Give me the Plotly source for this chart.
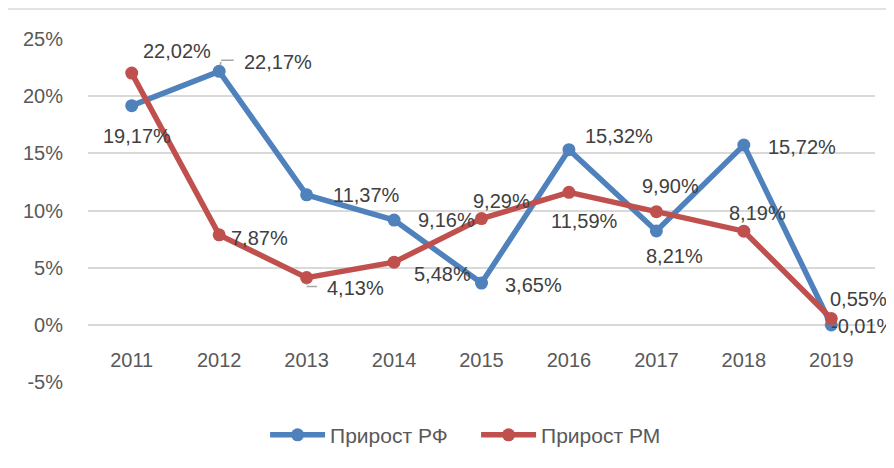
import plotly.graph_objects as go

years = ["2011", "2012", "2013", "2014", "2015", "2016", "2017", "2018", "2019"]
rf_growth = [19.17, 22.17, 11.37, 9.16, 3.65, 15.32, 8.21, 15.72, -0.01]
rm_growth = [22.02, 7.87, 4.13, 5.48, 9.29, 11.59, 9.90, 8.19, 0.55]
series_names = ["Прирост РФ", "Прирост РМ"]
y_ticks = [-5, 0, 5, 10, 15, 20, 25]

# label offsets in pixels (dx right, dy down)
rf_offsets = [(5, 30), (59, -9), (60, 0), (52, 0), (52, 2), (50, -14), (18, 25), (58, 2), (32, 1)]
rm_offsets = [(45, -22), (40, 3), (49, 10), (48, 12), (20, -18), (16, 29), (14, -26), (14, -18), (27, -20)]

BLUE = "#4F81BD"
RED = "#C0504D"
TXT = "#404040"
FONT = "Liberation Sans, Arial, sans-serif"

xpos = list(range(len(years)))

def fmt(v):
    return f"{v:.2f}".replace(".", ",") + "%"

fig = go.Figure()
for name, vals, col in [(series_names[0], rf_growth, BLUE), (series_names[1], rm_growth, RED)]:
    fig.add_trace(go.Scatter(
        x=xpos, y=vals, name=name, mode="lines+markers",
        line=dict(color=col, width=5.5),
        marker=dict(color=col, size=13),
        hoverinfo="skip",
    ))

for vals, offs in [(rf_growth, rf_offsets), (rm_growth, rm_offsets)]:
    for xi, v, (dx, dy) in zip(xpos, vals, offs):
        fig.add_annotation(
            x=xi, y=v, xref="x", yref="y", text=fmt(v), showarrow=False,
            xshift=dx, yshift=-dy,
            font=dict(family=FONT, size=20, color=TXT),
            xanchor="center", yanchor="middle",
        )

# leader lines (L-shaped) as arrow-only annotations
LEAD = dict(text="", showarrow=True, arrowhead=0, arrowwidth=1.5, arrowcolor="#A6A6A6",
            standoff=0, axref="pixel", ayref="pixel", xref="x", yref="y")
fig.add_annotation(x=xpos[1], y=rf_growth[1], xshift=1, yshift=6, ax=1, ay=-5, **LEAD)
fig.add_annotation(x=xpos[1], y=rf_growth[1], xshift=2, yshift=11, ax=14, ay=0, **LEAD)
fig.add_annotation(x=xpos[2], y=rm_growth[2], xshift=0, yshift=-6, ax=0, ay=3, **LEAD)
fig.add_annotation(x=xpos[2], y=rm_growth[2], xshift=0, yshift=-9, ax=12, ay=0, **LEAD)

# outer chart border
fig.add_shape(type="rect", xref="paper", yref="paper",
              x0=(7 - 88) / 787, x1=1.2, y0=-0.4, y1=(384 - 10) / 344,
              line=dict(color="#D9D9D9", width=1.5), fillcolor="rgba(0,0,0,0)", layer="below")

fig.update_layout(
    width=886, height=460,
    margin=dict(l=80, r=19, t=31, b=76),
    paper_bgcolor="white", plot_bgcolor="white",
    font=dict(family=FONT, size=20, color="#595959"),
    showlegend=True,
    legend=dict(orientation="h", x=0.225, xanchor="left", y=-0.155, yanchor="middle",
                font=dict(family=FONT, size=21, color="#595959"), itemwidth=55,
                entrywidth=141),
    xaxis=dict(
        type="linear", range=[-0.5, 8.5],
        tickmode="array", tickvals=xpos, ticktext=years,
        anchor="free", position=5 / 30,
        showgrid=False, showline=False, zeroline=False,
        ticks="outside", ticklen=17, tickcolor="rgba(0,0,0,0)",
        tickfont=dict(family=FONT, size=20, color="#595959"),
    ),
    yaxis=dict(
        range=[-5, 25], tickmode="array", tickvals=y_ticks,
        ticktext=[f"{t}%" for t in y_ticks],
        showgrid=True, gridcolor="#D9D9D9", gridwidth=1.8,
        zeroline=True, zerolinecolor="#D9D9D9", zerolinewidth=1.8,
        showline=False, ticks="outside", ticklen=20, tickcolor="rgba(0,0,0,0)",
        tickfont=dict(family=FONT, size=20, color="#595959"),
    ),
)

fig.write_html("out.html")
